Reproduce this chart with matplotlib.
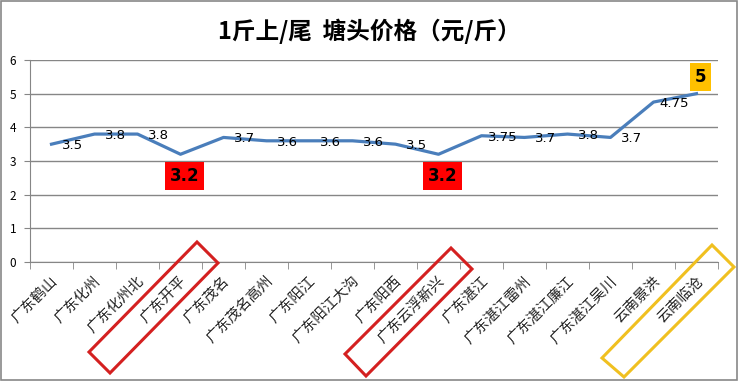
import matplotlib
matplotlib.use("Agg")
import matplotlib.pyplot as plt
from matplotlib.patches import Polygon, Rectangle
from matplotlib.transforms import ScaledTranslation
import numpy as np

plt.rcParams['font.family'] = ['Noto Sans CJK SC', 'DejaVu Sans']

# data
places = ["广东鹤山", "广东化州", "广东化州北", "广东开平", "广东茂名", "广东茂名高州",
          "广东阳江", "广东阳江大沟", "广东阳西", "广东云浮新兴", "广东湛江", "广东湛江雷州",
          "广东湛江廉江", "广东湛江吴川", "云南景洪", "云南临沧"]
prices = [3.5, 3.8, 3.8, 3.2, 3.7, 3.6, 3.6, 3.6, 3.5, 3.2, 3.75, 3.7, 3.8, 3.7, 4.75, 5]
label_text = ["3.5", "3.8", "3.8", "3.2", "3.7", "3.6", "3.6", "3.6", "3.5", "3.2",
              "3.75", "3.7", "3.8", "3.7", "4.75", "5"]
red_marks = [3, 9]       # lowest prices, boxed red
yellow_marks = [15]      # highest price, boxed yellow

W, H = 738, 381
fig = plt.figure(figsize=(W / 100, H / 100), dpi=100)
ax = fig.add_axes([30 / W, 1 - 262 / H, 688 / W, 202 / H])

x = np.arange(len(places))
ax.plot(x, prices, color='#4A7EBB', lw=2.3, solid_joinstyle='round', zorder=3)

ax.set_xlim(-0.5, len(places) - 0.5)
ax.set_ylim(0, 6)
ax.set_yticks(range(0, 7))
ax.yaxis.grid(True, color='#868686', lw=1)
ax.set_axisbelow(True)
for s in ['top', 'right']:
    ax.spines[s].set_visible(False)
for s in ['left', 'bottom']:
    ax.spines[s].set_color('#868686')
ax.tick_params(axis='y', length=4, color='#868686', labelsize=8.5, pad=6)

# category labels at centres, tick marks at the boundaries
ax.set_xticks(x)
ax.set_xticklabels(places, rotation=45, ha='right', va='center',
                   rotation_mode='anchor', fontsize=10.5, color='#222222')
ax.tick_params(axis='x', which='major', length=0, pad=12)
shift = ScaledTranslation(4 / 100, 0, fig.dpi_scale_trans)
for lab in ax.get_xticklabels():
    lab.set_transform(lab.get_transform() + shift)
ax.set_xticks(np.arange(-0.5, len(places), 1), minor=True)
ax.tick_params(axis='x', which='minor', length=5, color='#868686')

# data labels
for i, (v, t) in enumerate(zip(prices, label_text)):
    if i in red_marks:
        ax.annotate(t, (i, v), xytext=(3, -16), textcoords='offset points',
                    ha='center', va='center', fontsize=12, fontweight='bold',
                    family='DejaVu Sans',
                    bbox=dict(boxstyle='square,pad=0.3', fc='#FF0000', ec='none'))
    elif i in yellow_marks:
        ax.annotate(t, (i, v), xytext=(3, 12), textcoords='offset points',
                    ha='center', va='center', fontsize=12, fontweight='bold',
                    family='DejaVu Sans',
                    bbox=dict(boxstyle='square,pad=0.3', fc='#FFC000', ec='none'))
    else:
        ax.annotate(t, (i, v), xytext=(15, -1), textcoords='offset points',
                    ha='center', va='center', fontsize=9.5, family='DejaVu Sans')

fig.text(0.5, 1 - 31 / H, "1斤上/尾  塘头价格（元/斤）", ha='center', va='center',
         fontsize=17, fontweight='bold')

# highlight frames drawn over the labels (pixel corners from the reference)
def frame(pts, color):
    pts = [(px / W, 1 - py / H) for px, py in pts]
    fig.add_artist(Polygon(pts, closed=True, fill=False, ec=color, lw=2.2,
                           transform=fig.transFigure))

frame([(197, 242), (218, 263), (110, 373), (89, 352)], '#D42020')
frame([(451, 248), (472, 269), (366, 376), (345, 354)], '#D42020')
frame([(712, 245), (734, 267), (624, 377), (602, 358)], '#F0C020')

# outer chart border
fig.add_artist(Rectangle((0.001, 0.002), 0.997, 0.996, fill=False, ec='#888888', lw=1.2,
                         transform=fig.transFigure))

fig.savefig("out.png", dpi=100)
